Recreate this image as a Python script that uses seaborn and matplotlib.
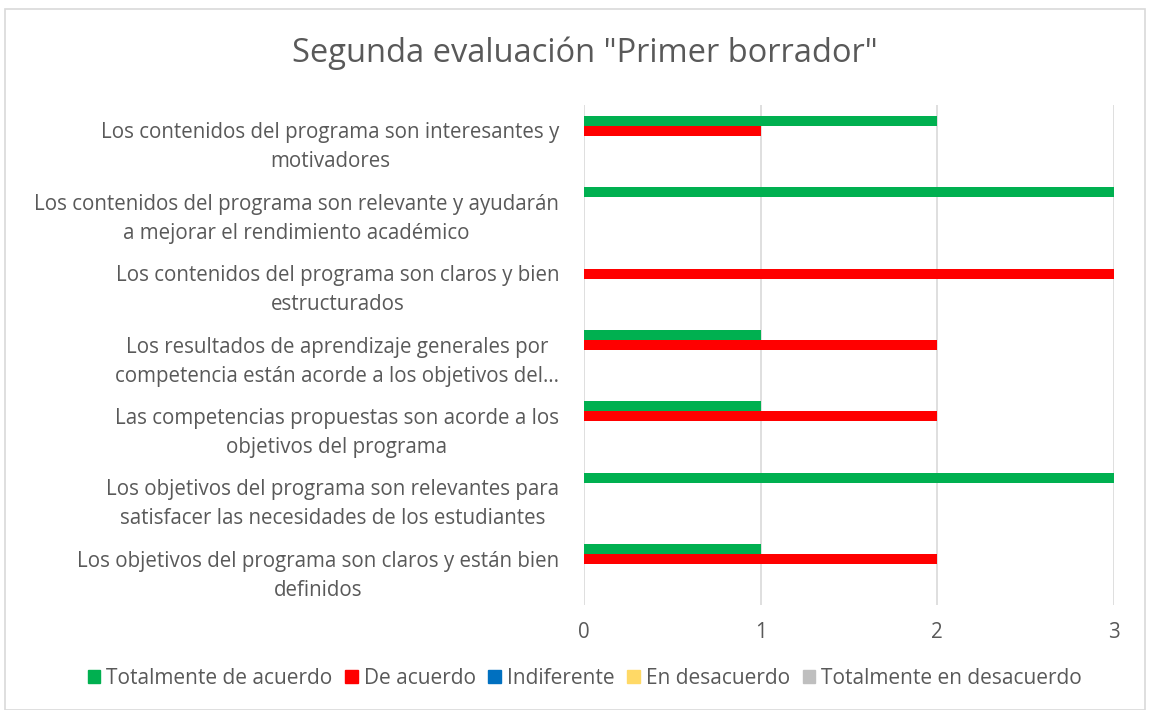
import matplotlib.pyplot as plt
import seaborn as sns
import pandas as pd
from matplotlib.patches import Rectangle, Patch

preguntas = [
    "Los contenidos del programa son interesantes y\nmotivadores",
    "Los contenidos del programa son relevante y ayudarán\na mejorar el rendimiento académico",
    "Los contenidos del programa son claros y bien\nestructurados",
    "Los resultados de aprendizaje generales por\ncompetencia están acorde a los objetivos del…",
    "Las competencias propuestas son acorde a los\nobjetivos del programa",
    "Los objetivos del programa son relevantes para\nsatisfacer las necesidades de los estudiantes",
    "Los objetivos del programa son claros y están bien\ndefinidos",
]
respuestas = ["Totalmente de acuerdo", "De acuerdo", "Indiferente",
              "En desacuerdo", "Totalmente en desacuerdo"]
totalmente_de_acuerdo = [2, 3, 0, 1, 1, 3, 1]
de_acuerdo = [1, 0, 3, 2, 2, 0, 2]
indiferente = [0, 0, 0, 0, 0, 0, 0]
en_desacuerdo = [0, 0, 0, 0, 0, 0, 0]
totalmente_en_desacuerdo = [0, 0, 0, 0, 0, 0, 0]
colores = ["#00B050", "#FF0000", "#0070C0", "#FFD966", "#BFBFBF"]

series = [totalmente_de_acuerdo, de_acuerdo, indiferente, en_desacuerdo, totalmente_en_desacuerdo]
rows = []
for resp, vals in zip(respuestas, series):
    for p, v in zip(preguntas, vals):
        rows.append({"pregunta": p, "respuesta": resp, "valor": v})
df = pd.DataFrame(rows)

sns.set_style("white")
plt.rcParams['font.family'] = ['Open Sans', 'DejaVu Sans']
txt = "#595959"

fig = plt.figure(figsize=(11.5, 7.1), dpi=100)
ax = fig.add_axes([584 / 1150, 1 - 605 / 710, 530 / 1150, 500 / 710])

sns.barplot(data=df, y="pregunta", x="valor", hue="respuesta", orient="h",
            order=preguntas, hue_order=respuestas, palette=colores,
            width=0.7, saturation=1, linewidth=0, errorbar=None, ax=ax)

ax.set_xlim(0, 3)
ax.set_xticks([0, 1, 2, 3])
ax.grid(axis="x", color="#D9D9D9", lw=1.2)
ax.set_axisbelow(True)
for s in ax.spines.values():
    s.set_visible(False)
ax.set_xlabel("")
ax.set_ylabel("")
ax.tick_params(axis="both", length=0, colors=txt, labelsize=14.8)
ax.tick_params(axis="x", pad=12)
ax.tick_params(axis="y", pad=18)
for t in ax.get_yticklabels():
    t.set_multialignment("center")
    t.set_linespacing(1.5)

ax.get_legend().remove()
handles = [Patch(color=c) for c in colores]
fig.legend(handles, respuestas, loc="center", bbox_to_anchor=(585 / 1150, 1 - 678 / 710),
           ncol=5, frameon=False, fontsize=15, labelcolor=txt,
           handlelength=0.6, handleheight=0.6, handletextpad=0.3, columnspacing=0.6)

fig.text(585 / 1150, 1 - 53 / 710, 'Segunda evaluación "Primer borrador"',
         ha="center", va="center", fontsize=23.5, color=txt)

fig.patches.append(Rectangle((5 / 1150, 0), 1140 / 1150, 1 - 9 / 710, transform=fig.transFigure,
                             fill=False, edgecolor="#D9D9D9", lw=1.2))

fig.savefig("out.png", dpi=100)
